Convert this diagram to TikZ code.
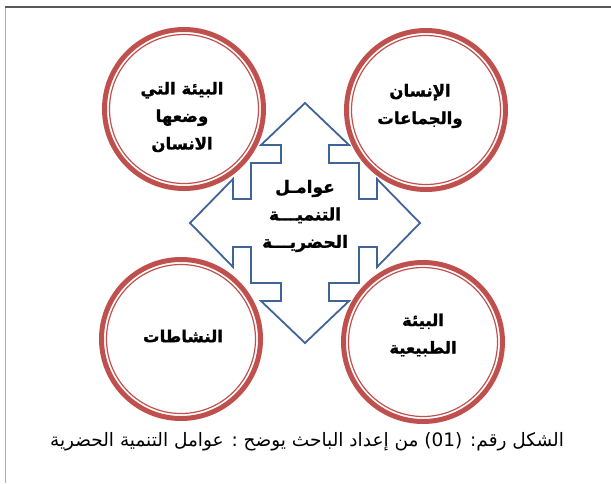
\documentclass[tikz,border=0pt]{standalone}
\usepackage{fontspec}
\TeXXeTstate=1
\newfontfamily\arabicfont[Script=Arabic]{DejaVu Sans}
\newfontfamily\arabicbold[Script=Arabic, FakeBold=1.3]{DejaVu Sans Bold}
\newcommand{\artext}[1]{\beginR #1\endR}
\definecolor{ringred}{RGB}{192,80,77}
\definecolor{arrowblue}{RGB}{64,100,152}
\definecolor{framegray}{RGB}{90,90,90}
\definecolor{framelight}{RGB}{175,175,175}
\tikzset{
  outerring/.style={circle, draw=ringred, line width=5pt, minimum size=159pt, inner sep=0pt, outer sep=0pt},
  innerring/.style={circle, draw=ringred, line width=1.2pt, minimum size=149pt, inner sep=0pt, outer sep=0pt},
  labeltext/.style={font=\arabicbold\fontsize{16.5}{27.5}\selectfont, align=center, inner sep=0pt},
  centertext/.style={font=\arabicbold\fontsize{17}{27.5}\selectfont, align=center, inner sep=0pt},
  captiontext/.style={font=\arabicfont\fontsize{18.5}{20}\selectfont, inner sep=0pt},
  quadarrow/.style={draw=arrowblue, line width=1.8pt, fill=white, line join=miter}
}
\begin{document}
\begin{tikzpicture}[x=1pt, y=-1pt]
\useasboundingbox (0,0) rectangle (611,483);
% frame
\draw[framelight, line width=1pt] (5.5,7) -- (5.5,483);
\draw[framegray, line width=1.5pt] (5,7) -- (611,7);
% circles
\node[outerring] (ctl) at (184,109) {};
\node[innerring] (ctli) at (184,109) {};
\node[outerring] (ctr) at (426,110) {};
\node[innerring] (ctri) at (426,110) {};
\node[outerring] (cbl) at (181,339) {};
\node[innerring] (cbli) at (181,339) {};
\node[outerring] (cbr) at (423,342) {};
\node[innerring] (cbri) at (423,342) {};
% central quad arrow
\draw[quadarrow, shift={(305,223)}]
  (0,-120) -- (44,-78) -- (24,-78) -- (24,-60) -- (54,-60) -- (54,-24)
  -- (72,-24) -- (72,-44) -- (115,0) -- (72,44) -- (72,24) -- (54,24)
  -- (54,60) -- (24,60) -- (24,78) -- (44,78) -- (0,120) -- (-44,78)
  -- (-24,78) -- (-24,60) -- (-54,60) -- (-54,24) -- (-72,24) -- (-72,44)
  -- (-115,0) -- (-72,-44) -- (-72,-24) -- (-54,-24) -- (-54,-60)
  -- (-24,-60) -- (-24,-78) -- (-44,-78) -- cycle;
% texts
\node[labeltext] (ttl) at (182,117) {\artext{البيئة التي}\\\artext{وضعها}\\\artext{الانسان}};
\node[labeltext] (ttr) at (420,106) {\artext{الإنسان}\\\artext{والجماعات}};
\node[labeltext] (tbl) at (183,336) {\artext{النشاطات}};
\node[labeltext] (tbr) at (423,335) {\artext{البيئة}\\\artext{الطبيعية}};
\node[centertext] (tc) at (305,216) {\artext{عوامـل}\\\artext{التنميـــة}\\\artext{الحضريـــة}};
\node[captiontext] (cap) at (307,442) {\artext{الشكل رقم: (01) من إعداد الباحث يوضح : عوامل التنمية الحضرية}};
\end{tikzpicture}
\end{document}
